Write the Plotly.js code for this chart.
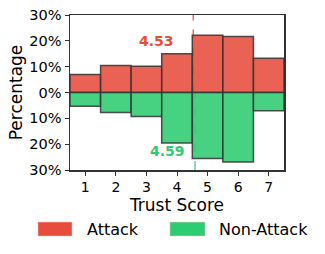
<!DOCTYPE html>
<html><head><meta charset="utf-8">
<script src="https://cdn.plot.ly/plotly-3.0.1.min.js"></script>
<style>body{margin:0;padding:0;background:#fff}</style>
</head><body>
<div id="chart" style="width:325px;height:254px"></div>
<script>
const scores = [1, 2, 3, 4, 5, 6, 7];
const attackPct = [7.0, 10.5, 10.2, 15.0, 22.2, 21.7, 13.3];
const nonAttackPct = [5.3, 7.7, 9.3, 19.5, 25.5, 26.9, 7.1];
const attackMean = 4.53;
const nonAttackMean = 4.59;
const yTickVals = [-30, -20, -10, 0, 10, 20, 30];
const yTickText = ['30%', '20%', '10%', '0%', '10%', '20%', '30%'];
const seriesNames = ['Attack', 'Non-Attack'];

const red = '#e74c3c', green = '#2ecc71';
const edge = {color: 'rgba(50,50,50,0.85)', width: 1.5};

const traces = [
  {type: 'bar', x: scores, y: attackPct, width: 1, name: seriesNames[0],
   marker: {color: 'rgba(231,76,60,0.88)', line: edge}, hoverinfo: 'skip'},
  {type: 'bar', x: scores, y: nonAttackPct.map(v => -v), width: 1, name: seriesNames[1],
   marker: {color: 'rgba(46,204,113,0.88)', line: edge}, hoverinfo: 'skip'}
];

// custom legend (paper coords relative to plot area 70..284 x 15..170)
const legendPatch = (x0, x1, col) => ({type: 'rect', xref: 'paper', yref: 'paper',
  x0: x0, x1: x1, y0: -0.426, y1: -0.336, fillcolor: col, line: {color: 'rgba(255,200,200,0.5)', width: 1}});

const layout = {
  width: 325, height: 254,
  margin: {l: 70, r: 41, t: 15, b: 84},
  font: {family: 'DejaVu Sans', color: '#000'},
  barmode: 'overlay', bargap: 0,
  paper_bgcolor: '#fff', plot_bgcolor: '#fff',
  xaxis: {range: [0.5, 7.5], tickvals: scores, ticks: 'outside', ticklen: 4,
    tickcolor: '#333', tickfont: {size: 14}, showgrid: false, zeroline: false,
    showline: true, mirror: true, linecolor: '#333', linewidth: 1.5,
    title: {text: 'Trust Score', font: {size: 17}, standoff: 3}},
  yaxis: {range: [-30, 30], tickvals: yTickVals, ticktext: yTickText,
    ticks: 'outside', ticklen: 4, tickcolor: '#333', tickfont: {size: 14.5}, showgrid: false,
    zeroline: true, zerolinecolor: '#000', zerolinewidth: 1.5,
    showline: true, mirror: true, linecolor: '#333', linewidth: 1.5,
    title: {text: 'Percentage', font: {size: 17}, standoff: 2}},
  shapes: [
    {type: 'line', layer: 'below', xref: 'x', yref: 'y', x0: attackMean, x1: attackMean, y0: 0, y1: 30,
     line: {color: red, width: 1.2, dash: 'dash'}},
    {type: 'line', layer: 'below', xref: 'x', yref: 'y', x0: nonAttackMean, x1: nonAttackMean, y0: -30, y1: 0,
     line: {color: green, width: 1.2, dash: 'dash'}},
    legendPatch(-0.1495, 0.0093, red),
    legendPatch(0.467, 0.631, green)
  ],
  annotations: [
    {xref: 'x', yref: 'y', x: attackMean - 0.56, y: 20.1, text: '<b>' + attackMean.toFixed(2) + '</b>',
     showarrow: false, xanchor: 'right', yanchor: 'middle', font: {size: 14, color: red}},
    {xref: 'x', yref: 'y', x: nonAttackMean - 0.26, y: -22.8, text: '<b>' + nonAttackMean.toFixed(2) + '</b>',
     showarrow: false, xanchor: 'right', yanchor: 'middle', font: {size: 14, color: green}},
    {xref: 'paper', yref: 'paper', x: 0.072, y: -0.381, text: seriesNames[0], showarrow: false,
     xanchor: 'left', yanchor: 'middle', font: {size: 16}},
    {xref: 'paper', yref: 'paper', x: 0.689, y: -0.381, text: seriesNames[1], showarrow: false,
     xanchor: 'left', yanchor: 'middle', font: {size: 16}}
  ],
  showlegend: false
};

Plotly.newPlot('chart', traces, layout, {staticPlot: true, displayModeBar: false});
</script>
</body></html>
